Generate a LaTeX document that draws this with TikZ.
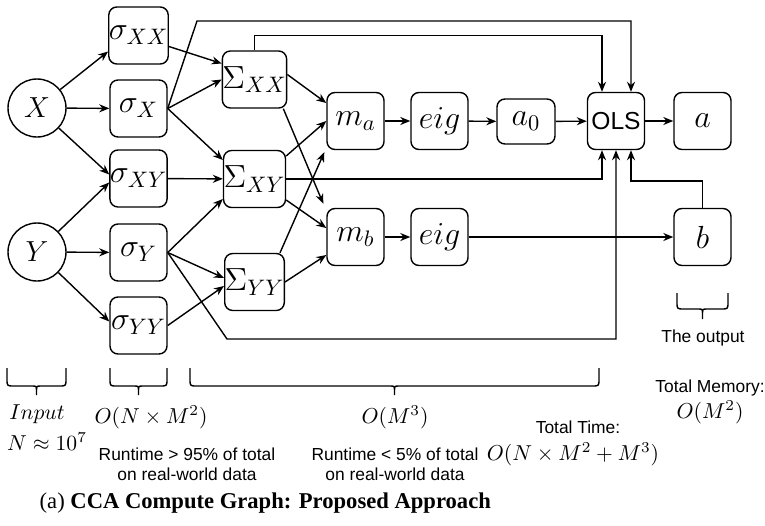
\RequirePackage{fix-cm}
\documentclass[tikz,border=0pt]{standalone}
\usepackage{fontspec}
\newfontfamily\labelsans{Liberation Sans}
\newfontfamily\captionserif{Liberation Serif}
\usetikzlibrary{arrows.meta,calc}

\newcommand\gnodefont{\fontsize{16}{19}\selectfont}
\newcommand\gvarfont{\fontsize{14.5}{17}\selectfont}
\newcommand\gsansfont{\labelsans\fontsize{8.7}{10.2}\selectfont}
\newcommand\gmathfont{\fontsize{10.8}{12.5}\selectfont}

% curly brace opening upwards: x1, x2, top, horizontal, tip
\newcommand\cbrace[5]{%
  \pgfmathsetmacro\bmid{(#1+#2)/2}%
  \draw (#1,#3) -- (#1,#4-7) .. controls (#1,#4) .. (#1+7,#4)
        -- (\bmid-5,#4) .. controls (\bmid,#4) .. (\bmid,#4+4) -- (\bmid,#5);
  \draw (#2,#3) -- (#2,#4-7) .. controls (#2,#4) .. (#2-7,#4)
        -- (\bmid+5,#4) .. controls (\bmid,#4) .. (\bmid,#4+4);
}

\begin{document}
\begin{tikzpicture}[x=0.5pt,y=-0.5pt,line width=0.7pt,
  box/.style={draw,rounded corners=4pt,minimum width=28.5pt,minimum height=28.5pt,
              inner sep=0pt,font=\gnodefont},
  var/.style={draw,circle,minimum size=29pt,inner sep=0pt,font=\gvarfont},
  arr/.style={-{Stealth[length=5pt,width=4pt,inset=1.6pt]}},
  note/.style={font=\gsansfont,align=center,inner sep=0pt},
  mnote/.style={font=\gmathfont,inner sep=0pt}]

\useasboundingbox[fill=white] (0,0) rectangle (765,525);

% inputs
\node[var] (X) at (37,108) {$X$};
\node[var] (Y) at (37,252) {$Y$};

% first-pass statistics
\node[box] (sXX) at (138.5,35.5)  {$\sigma_{XX}$};
\node[box] (sX)  at (138.5,108.5) {$\sigma_{X}$};
\node[box] (sXY) at (138.5,178.5) {$\sigma_{XY}$};
\node[box] (sY)  at (138.5,252.5) {$\sigma_{Y}$};
\node[box] (sYY) at (138.5,325.5) {$\sigma_{YY}$};

% covariance matrices
\node[box] (SXX) at (254.5,79.5) {$\Sigma_{XX}$};
\node[box] (SXY) at (254.5,179)  {$\Sigma_{XY}$};
\node[box] (SYY) at (254.5,282)  {$\Sigma_{YY}$};

% small dense problems
\node[box] (ma)   at (355.5,121) {$m_a$};
\node[box] (mb)   at (355.5,237) {$m_b$};
\node[box] (eig1) at (439.5,121) {$eig$};
\node[box] (eig2) at (439.5,237) {$eig$};
\node[box,minimum width=29pt,minimum height=22.5pt] (a0) at (526,121.5) {$a_0$};
\node[box,font=\labelsans\fontsize{12.3}{14}\selectfont] (OLS) at (616,121) {OLS};
\node[box] (a) at (702.5,121) {$a$};
\node[box] (b) at (702.5,237) {$b$};

\coordinate (topbend) at (197,21);
\coordinate (botbend) at (227,339);

% inputs to statistics
\draw[arr] (X) -- ($(sXX.west)+(0,16)$);
\draw[arr] (X) -- (sX);
\draw[arr] (X) -- ($(sXY.west)+(0,-4)$);
\draw[arr] (Y) -- ($(sXY.west)+(0,4)$);
\draw[arr] (Y) -- (sY);
\draw[arr] (Y) -- ($(sYY.west)+(0,-4)$);

% statistics to covariances
\draw[arr] ($(sXX.east)+(0,11)$) -- ($(SXX.west)+(0,-16)$);
\draw[arr] (sX.east) -- (SXX.west);
\draw[arr] (sX.east) -- ($(SXY.west)+(0,-19)$);
\draw[arr] (sXY) -- (SXY);
\draw[arr] (sY.east) -- ($(SXY.west)+(0,20)$);
\draw[arr] (sY.east) -- ($(SYY.west)+(0,-4)$);
\draw[arr] (sYY.east) -- ($(SYY.west)+(0,4)$);

% long feeds into OLS
\draw[arr] (sX.east) -- (topbend) -| ($(OLS.north)+(15,0)$);
\draw[arr] (SXX.north) -- ($(SXX.north)+(0,-15)$) -| ($(OLS.north)+(-14,0)$);
\draw[arr] (SXY.east) -| ($(OLS.south)+(-14,0)$);
\draw[arr] (sY.east) -- (botbend) -| (OLS.south);

% covariances to m_a, m_b
\draw[arr] ($(SXX.east)+(0,-5)$) -- ($(ma.west)+(0,-18)$);
\draw[arr] ($(SXX.south east)+(-4,0)$) -- ($(mb.north west)+(-3,-4)$);
\draw[arr] ($(SXY.east)+(0,-23)$) -- (ma.west);
\draw[arr] ($(SXY.east)+(0,21)$) -- ($(mb.west)+(0,-9)$);
\draw[arr] ($(SYY.north east)+(-5,0)$) -- ($(ma.south west)+(-2,2)$);
\draw[arr] (SYY.east) -- ($(mb.west)+(0,18)$);

% eigen solves and regression
\draw[arr] (ma) -- (eig1);
\draw[arr] (eig1) -- (a0);
\draw[arr] (a0) -- (OLS);
\draw[arr] (OLS) -- (a);
\draw[arr] (mb) -- (eig2);
\draw[arr] (eig2) -- (b);
\draw[arr] (b.north) -- ++(0,-27) -| ($(OLS.south)+(15,0)$);

% braces
\cbrace{7}{66}{368}{386}{395}
\cbrace{110}{167}{368}{386}{395}
\cbrace{190}{599}{368}{386}{395}
\cbrace{677}{728}{293}{309}{319}

% annotations
\node[mnote] (lin) at (37,414) {$Input$};
\node[mnote] (lN) at (47,442) {$N \approx 10^7$};
\node[mnote] (lc1) at (151,417) {$O(N \times M^2)$};
\node[note] (lr1) at (187,464) {Runtime > 95\% of total\\on real-world data};
\node[mnote] (lc2) at (395,417) {$O(M^3)$};
\node[note] (lr2) at (395,464) {Runtime < 5\% of total\\on real-world data};
\node[note] (ltt) at (578,427) {Total Time:};
\node[mnote] (ltc) at (573,454) {$O(N \times M^2 + M^3)$};
\node[note] (lout) at (703,338) {The output};
\node[note] (ltm) at (710,388) {Total Memory:};
\node[mnote] (lmc) at (710,412) {$O(M^2)$};

\node[anchor=west,inner sep=0pt,font=\captionserif\fontsize{11.3}{13}\selectfont] (cap) at (39,503)
  {(a) \textbf{CCA Compute Graph: Proposed Approach}};
\end{tikzpicture}
\end{document}
